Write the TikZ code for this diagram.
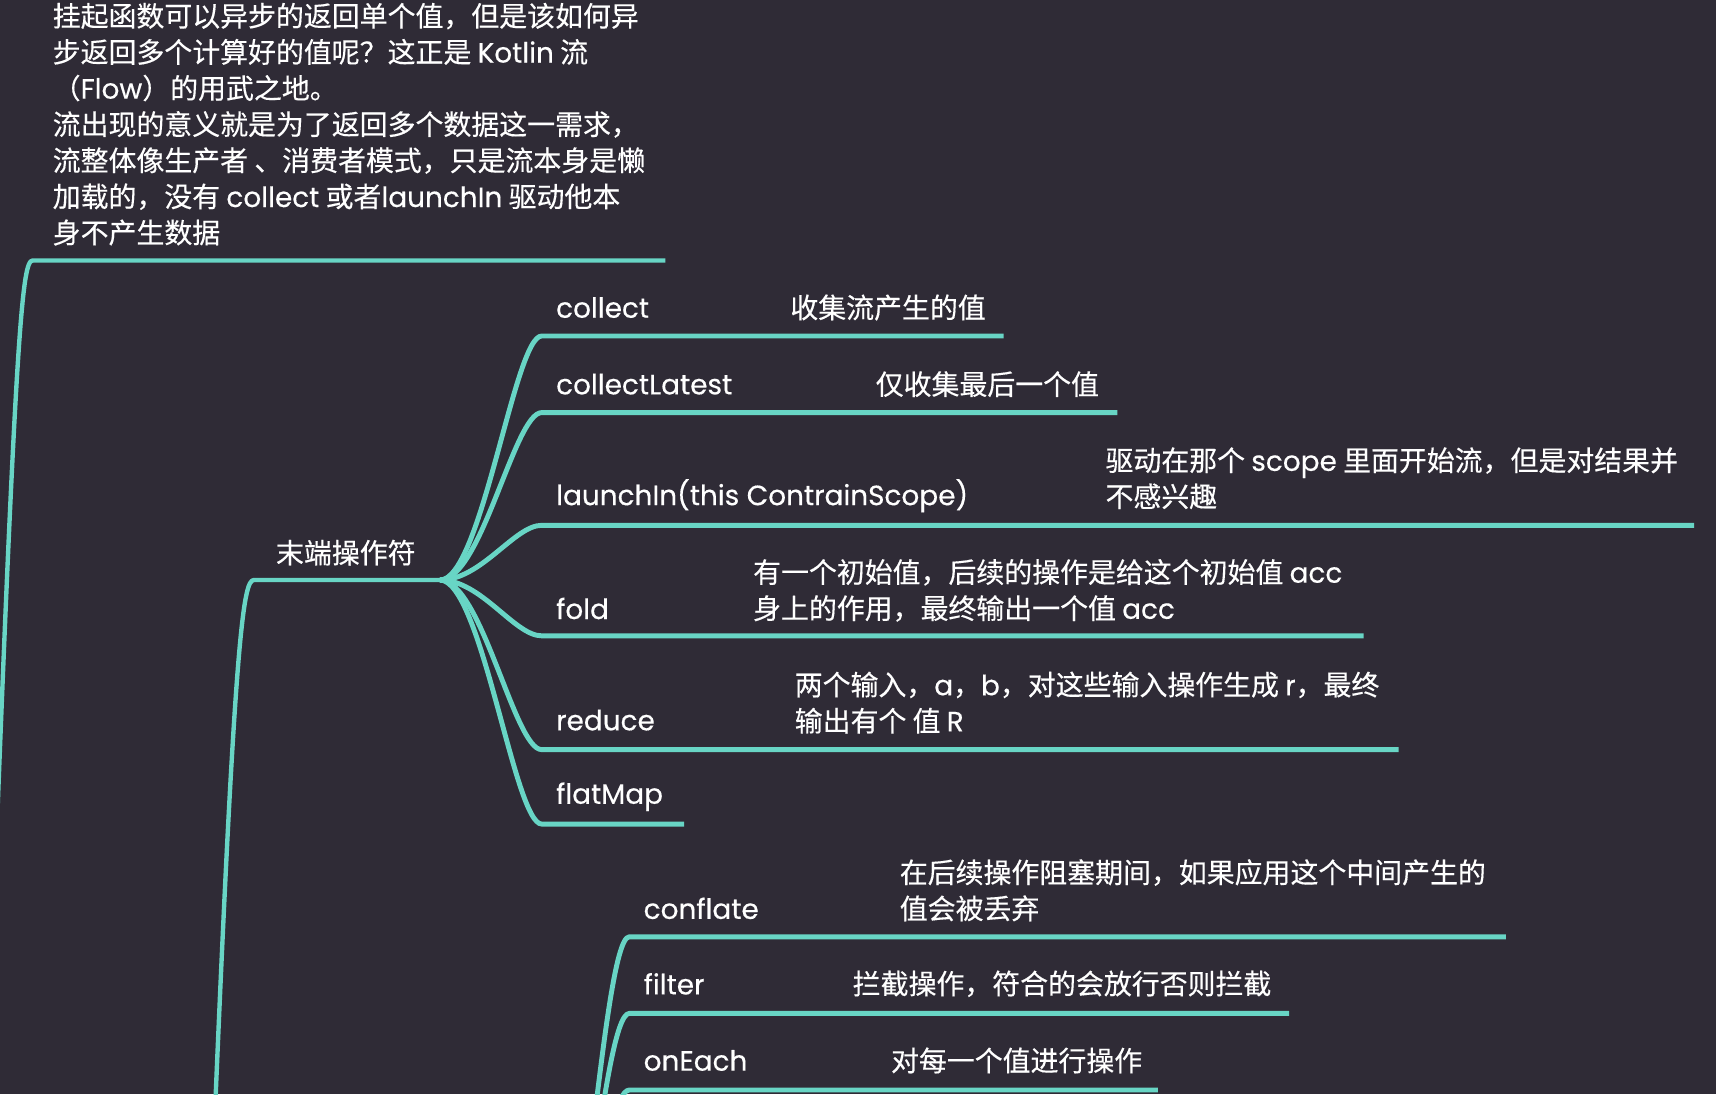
\documentclass[tikz,border=0pt]{standalone}
\usepackage{fontspec}
\setmainfont[FakeBold=0.35,AutoFakeBold=0]{Noto Sans CJK SC}
\newfontfamily\lat[FakeBold=0.35,AutoFakeBold=0]{Poppins}
\definecolor{bgdark}{RGB}{47,43,54}
\definecolor{branch}{RGB}{104,213,197}
\tikzset{
  lbl/.style={text=white, inner sep=0pt, anchor=west, align=left,
    font=\fontsize{25.5}{33}\selectfont},
  latlbl/.style={lbl, font=\lat\fontsize{25.5}{33}\selectfont},
  branchline/.style={draw=branch, line width=4.5pt, line cap=butt, line join=round},
  trunkline/.style={draw=branch, line width=4pt, line cap=butt, line join=round}
}
\begin{document}
\begin{tikzpicture}[x=1pt,y=-1pt]
\fill[bgdark] (0,0) rectangle (1568,1000);
\useasboundingbox (0,0) rectangle (1568,1000);
\clip (0,0) rectangle (1568,1000);

% root topic
\node[lbl] (root) at (48,113.5) {挂起函数可以异步的返回单个值，但是该如何异\\步返回多个计算好的值呢？这正是 {\lat Kotlin} 流\\（{\lat Flow}）的用武之地。\\流出现的意义就是为了返回多个数据这一需求，\\流整体像生产者 、消费者模式，只是流本身是懒\\加载的，没有 {\lat collect} 或者{\lat launchIn} 驱动他本\\身不产生数据};
\coordinate (rootL) at (30,238);
\coordinate (rootR) at (608,238);
\coordinate (rootP) at (-12,1000);
\draw[trunkline] (rootR) -- (rootL) .. controls (20,238) and (14,290) .. (rootP);

% terminal operators
\node[lbl] (term) at (252,505) {末端操作符};
\coordinate (termL) at (232,530);
\coordinate (J1) at (402,530);
\coordinate (termP) at (193,1100);
\draw[trunkline] (J1) -- (termL) .. controls (222,530) and (214,580) .. (termP);

% children of terminal operators
\node[latlbl] (collect) at (508,281) {collect};
\node[lbl] (collectD) at (722,281) {收集流产生的值};
\coordinate (collectS) at (495,307); \coordinate (collectE) at (917,307);

\node[latlbl] (latest) at (508,351) {collectLatest};
\node[lbl] (latestD) at (800,351) {仅收集最后一个值};
\coordinate (latestS) at (495,377); \coordinate (latestE) at (1021,377);

\node[latlbl] (launch) at (508,453) {launchIn(this ContrainScope)};
\node[lbl] (launchD) at (1010,437) {驱动在那个 {\lat scope} 里面开始流，但是对结果并\\不感兴趣};
\coordinate (launchS) at (495,480); \coordinate (launchE) at (1548,480);

\node[latlbl] (fold) at (508,556) {fold};
\node[lbl] (foldD) at (688,539.5) {有一个初始值，后续的操作是给这个初始值 {\lat acc}\\身上的作用，最终输出一个值 {\lat acc}};
\coordinate (foldS) at (495,581); \coordinate (foldE) at (1246,581);

\node[latlbl] (reduce) at (508,658) {reduce};
\node[lbl] (reduceD) at (726,642) {两个输入，{\lat a}，{\lat b}，对这些输入操作生成 {\lat r}，最终\\输出有个 值 {\lat R}};
\coordinate (reduceS) at (495,685); \coordinate (reduceE) at (1278,685);

\node[latlbl] (flat) at (508,728) {flatMap};
\coordinate (flatS) at (495,753); \coordinate (flatE) at (625,753);

\foreach \c in {collect,latest,launch,fold,reduce,flat}{
  \draw[branchline] (J1) .. controls +(38,0) and +(-25,0) .. (\c S) -- (\c E);
}

% intermediate operators (parent below the picture)
\coordinate (J2) at (500,1250);
\node[latlbl] (conflate) at (588,830) {conflate};
\node[lbl] (conflateD) at (822,813.5) {在后续操作阻塞期间，如果应用这个中间产生的\\值会被丢弃};
\coordinate (conflateS) at (575,856); \coordinate (conflateE) at (1376,856);

\node[latlbl] (filter) at (588,899) {filter};
\node[lbl] (filterD) at (779,899) {拦截操作，符合的会放行否则拦截};
\coordinate (filterS) at (575,926); \coordinate (filterE) at (1178,926);

\node[latlbl] (each) at (588,969) {onEach};
\node[lbl] (eachD) at (814,969) {对每一个值进行操作};
\coordinate (eachS) at (575,996); \coordinate (eachE) at (1058,996);

\foreach \c in {conflate,filter,each}{
  \draw[branchline] (J2) .. controls +(30,0) and +(-25,0) .. (\c S) -- (\c E);
}
\end{tikzpicture}
\end{document}
